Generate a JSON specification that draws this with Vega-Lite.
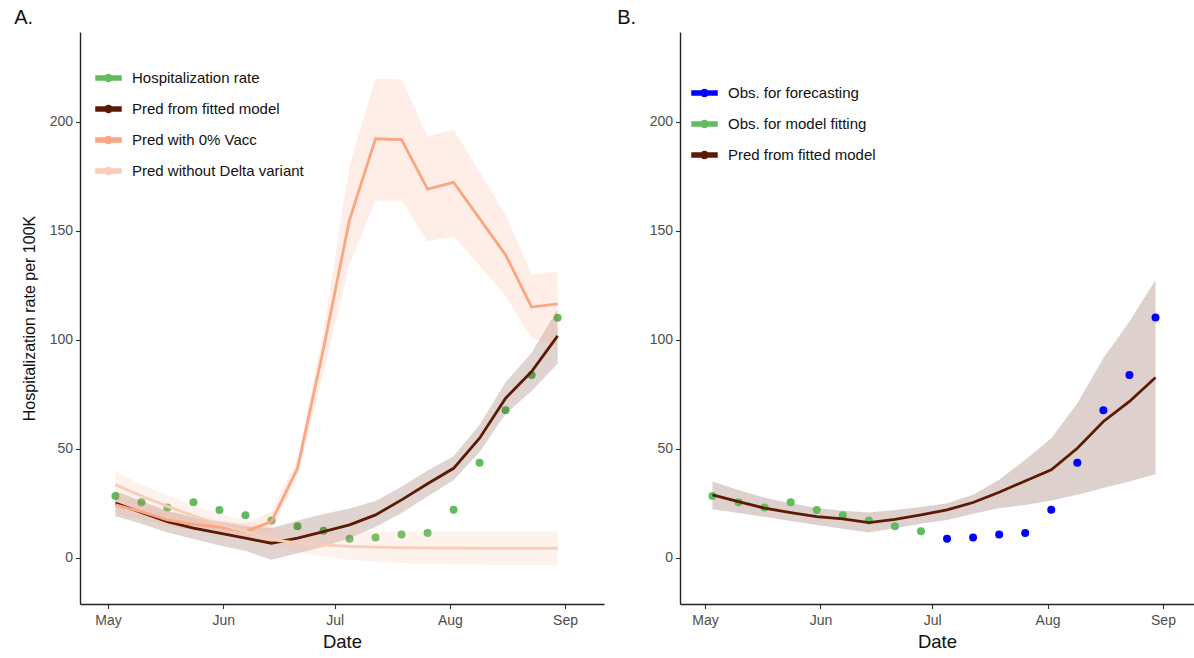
{
  "$schema": "https://vega.github.io/schema/vega-lite/v6.json",
  "padding": {"left": 14, "top": 8, "right": 0, "bottom": 0},
  "background": "white",
  "config": {
    "font": "Liberation Sans",
    "view": {"stroke": null},
    "axis": {"grid": false, "domainColor": "#222222", "domainWidth": 1.4, "tickColor": "#333333", "tickSize": 4.5, "tickWidth": 1.1, "labelColor": "#4D4D4D", "labelFontSize": 14, "labelFont": "Liberation Sans", "titleFont": "Liberation Sans", "titleFontWeight": "normal", "titleColor": "#111111", "labelPadding": 3}
  },
  "resolve": {"scale": {"color": "independent", "fill": "independent"}},
  "spacing": 13,
  "datasets": {
    "obsA": [
      {"date": "2021-05-03", "y": 28.3, "series": "Hospitalization rate"},
      {"date": "2021-05-10", "y": 25.4, "series": "Hospitalization rate"},
      {"date": "2021-05-17", "y": 23.0, "series": "Hospitalization rate"},
      {"date": "2021-05-24", "y": 25.4, "series": "Hospitalization rate"},
      {"date": "2021-05-31", "y": 21.8, "series": "Hospitalization rate"},
      {"date": "2021-06-07", "y": 19.5, "series": "Hospitalization rate"},
      {"date": "2021-06-14", "y": 17.0, "series": "Hospitalization rate"},
      {"date": "2021-06-21", "y": 14.4, "series": "Hospitalization rate"},
      {"date": "2021-06-28", "y": 12.3, "series": "Hospitalization rate"},
      {"date": "2021-07-05", "y": 8.6, "series": "Hospitalization rate"},
      {"date": "2021-07-12", "y": 9.2, "series": "Hospitalization rate"},
      {"date": "2021-07-19", "y": 10.6, "series": "Hospitalization rate"},
      {"date": "2021-07-26", "y": 11.3, "series": "Hospitalization rate"},
      {"date": "2021-08-02", "y": 22.0, "series": "Hospitalization rate"},
      {"date": "2021-08-09", "y": 43.6, "series": "Hospitalization rate"},
      {"date": "2021-08-16", "y": 67.7, "series": "Hospitalization rate"},
      {"date": "2021-08-23", "y": 83.8, "series": "Hospitalization rate"},
      {"date": "2021-08-30", "y": 110.1, "series": "Hospitalization rate"}
    ],
    "predA": [
      {"series": "Pred from fitted model", "date": "2021-05-03", "y": 25.0, "lo": 19.0, "hi": 30.5},
      {"series": "Pred from fitted model", "date": "2021-05-10", "y": 20.7, "lo": 15.5, "hi": 26.0},
      {"series": "Pred from fitted model", "date": "2021-05-17", "y": 16.5, "lo": 11.5, "hi": 21.5},
      {"series": "Pred from fitted model", "date": "2021-05-24", "y": 13.5, "lo": 8.5, "hi": 18.5},
      {"series": "Pred from fitted model", "date": "2021-05-31", "y": 11.2, "lo": 5.5, "hi": 16.5},
      {"series": "Pred from fitted model", "date": "2021-06-07", "y": 8.9, "lo": 3.0, "hi": 14.5},
      {"series": "Pred from fitted model", "date": "2021-06-14", "y": 6.6, "lo": -1.0, "hi": 13.5},
      {"series": "Pred from fitted model", "date": "2021-06-21", "y": 8.9, "lo": 2.0, "hi": 17.0},
      {"series": "Pred from fitted model", "date": "2021-06-28", "y": 11.9, "lo": 5.0, "hi": 20.0},
      {"series": "Pred from fitted model", "date": "2021-07-05", "y": 15.0, "lo": 9.0, "hi": 22.5},
      {"series": "Pred from fitted model", "date": "2021-07-12", "y": 19.6, "lo": 14.0, "hi": 26.0},
      {"series": "Pred from fitted model", "date": "2021-07-19", "y": 26.5, "lo": 20.5, "hi": 32.5},
      {"series": "Pred from fitted model", "date": "2021-07-26", "y": 33.9, "lo": 28.0, "hi": 40.0},
      {"series": "Pred from fitted model", "date": "2021-08-02", "y": 41.0, "lo": 35.5, "hi": 46.5},
      {"series": "Pred from fitted model", "date": "2021-08-09", "y": 54.8, "lo": 48.5, "hi": 61.0},
      {"series": "Pred from fitted model", "date": "2021-08-16", "y": 73.2, "lo": 66.0, "hi": 80.5},
      {"series": "Pred from fitted model", "date": "2021-08-23", "y": 85.4, "lo": 76.5, "hi": 94.0},
      {"series": "Pred from fitted model", "date": "2021-08-30", "y": 101.8, "lo": 89.0, "hi": 114.0},
      {"series": "Pred with 0% Vacc", "date": "2021-05-03", "y": 24.2, "lo": 20.5, "hi": 28.5},
      {"series": "Pred with 0% Vacc", "date": "2021-05-10", "y": 21.1, "lo": 17.5, "hi": 24.5},
      {"series": "Pred with 0% Vacc", "date": "2021-05-17", "y": 17.3, "lo": 14.5, "hi": 21.0},
      {"series": "Pred with 0% Vacc", "date": "2021-05-24", "y": 15.3, "lo": 12.5, "hi": 18.5},
      {"series": "Pred with 0% Vacc", "date": "2021-05-31", "y": 14.0, "lo": 11.0, "hi": 17.0},
      {"series": "Pred with 0% Vacc", "date": "2021-06-07", "y": 12.0, "lo": 9.5, "hi": 15.5},
      {"series": "Pred with 0% Vacc", "date": "2021-06-14", "y": 16.5, "lo": 12.5, "hi": 21.0},
      {"series": "Pred with 0% Vacc", "date": "2021-06-21", "y": 41.0, "lo": 37.0, "hi": 45.0},
      {"series": "Pred with 0% Vacc", "date": "2021-06-28", "y": 96.0, "lo": 85.0, "hi": 104.0},
      {"series": "Pred with 0% Vacc", "date": "2021-07-05", "y": 155.1, "lo": 134.4, "hi": 180.0},
      {"series": "Pred with 0% Vacc", "date": "2021-07-12", "y": 192.3, "lo": 164.0, "hi": 220.0},
      {"series": "Pred with 0% Vacc", "date": "2021-07-19", "y": 191.9, "lo": 164.0, "hi": 219.5},
      {"series": "Pred with 0% Vacc", "date": "2021-07-26", "y": 169.2, "lo": 145.2, "hi": 193.4},
      {"series": "Pred with 0% Vacc", "date": "2021-08-02", "y": 172.3, "lo": 147.5, "hi": 196.5},
      {"series": "Pred with 0% Vacc", "date": "2021-08-09", "y": 155.6, "lo": 134.0, "hi": 177.0},
      {"series": "Pred with 0% Vacc", "date": "2021-08-16", "y": 139.0, "lo": 120.0, "hi": 157.4},
      {"series": "Pred with 0% Vacc", "date": "2021-08-23", "y": 115.0, "lo": 100.8, "hi": 130.0},
      {"series": "Pred with 0% Vacc", "date": "2021-08-30", "y": 116.5, "lo": 97.0, "hi": 131.4},
      {"series": "Pred without Delta variant", "date": "2021-05-03", "y": 33.5, "lo": 28.0, "hi": 39.5},
      {"series": "Pred without Delta variant", "date": "2021-05-10", "y": 28.3, "lo": 23.0, "hi": 33.5},
      {"series": "Pred without Delta variant", "date": "2021-05-17", "y": 23.5, "lo": 19.0, "hi": 28.5},
      {"series": "Pred without Delta variant", "date": "2021-05-24", "y": 19.2, "lo": 15.0, "hi": 24.0},
      {"series": "Pred without Delta variant", "date": "2021-05-31", "y": 15.3, "lo": 11.5, "hi": 20.0},
      {"series": "Pred without Delta variant", "date": "2021-06-07", "y": 12.0, "lo": 8.5, "hi": 17.0},
      {"series": "Pred without Delta variant", "date": "2021-06-14", "y": 8.3, "lo": 5.5, "hi": 14.0},
      {"series": "Pred without Delta variant", "date": "2021-06-21", "y": 6.8, "lo": 2.5, "hi": 12.5},
      {"series": "Pred without Delta variant", "date": "2021-06-28", "y": 5.8, "lo": 0.5, "hi": 12.0},
      {"series": "Pred without Delta variant", "date": "2021-07-05", "y": 5.1, "lo": -1.0, "hi": 12.0},
      {"series": "Pred without Delta variant", "date": "2021-07-12", "y": 4.8, "lo": -2.0, "hi": 12.0},
      {"series": "Pred without Delta variant", "date": "2021-07-19", "y": 4.6, "lo": -2.5, "hi": 12.0},
      {"series": "Pred without Delta variant", "date": "2021-07-26", "y": 4.5, "lo": -3.0, "hi": 12.0},
      {"series": "Pred without Delta variant", "date": "2021-08-02", "y": 4.4, "lo": -3.2, "hi": 12.0},
      {"series": "Pred without Delta variant", "date": "2021-08-09", "y": 4.3, "lo": -3.3, "hi": 12.0},
      {"series": "Pred without Delta variant", "date": "2021-08-16", "y": 4.3, "lo": -3.4, "hi": 12.0},
      {"series": "Pred without Delta variant", "date": "2021-08-23", "y": 4.3, "lo": -3.4, "hi": 12.0},
      {"series": "Pred without Delta variant", "date": "2021-08-30", "y": 4.3, "lo": -3.4, "hi": 12.0}
    ],
    "obsB": [
      {"date": "2021-05-03", "y": 28.3, "series": "Obs. for model fitting"},
      {"date": "2021-05-10", "y": 25.4, "series": "Obs. for model fitting"},
      {"date": "2021-05-17", "y": 23.0, "series": "Obs. for model fitting"},
      {"date": "2021-05-24", "y": 25.4, "series": "Obs. for model fitting"},
      {"date": "2021-05-31", "y": 21.8, "series": "Obs. for model fitting"},
      {"date": "2021-06-07", "y": 19.5, "series": "Obs. for model fitting"},
      {"date": "2021-06-14", "y": 17.0, "series": "Obs. for model fitting"},
      {"date": "2021-06-21", "y": 14.4, "series": "Obs. for model fitting"},
      {"date": "2021-06-28", "y": 12.1, "series": "Obs. for model fitting"},
      {"date": "2021-07-05", "y": 8.6, "series": "Obs. for forecasting"},
      {"date": "2021-07-12", "y": 9.2, "series": "Obs. for forecasting"},
      {"date": "2021-07-19", "y": 10.6, "series": "Obs. for forecasting"},
      {"date": "2021-07-26", "y": 11.3, "series": "Obs. for forecasting"},
      {"date": "2021-08-02", "y": 22.0, "series": "Obs. for forecasting"},
      {"date": "2021-08-09", "y": 43.6, "series": "Obs. for forecasting"},
      {"date": "2021-08-16", "y": 67.7, "series": "Obs. for forecasting"},
      {"date": "2021-08-23", "y": 83.8, "series": "Obs. for forecasting"},
      {"date": "2021-08-30", "y": 110.2, "series": "Obs. for forecasting"}
    ],
    "predB": [
      {"series": "Pred from fitted model", "date": "2021-05-03", "y": 28.8, "lo": 22.2, "hi": 34.9},
      {"series": "Pred from fitted model", "date": "2021-05-10", "y": 25.7, "lo": 20.5, "hi": 31.0},
      {"series": "Pred from fitted model", "date": "2021-05-17", "y": 22.7, "lo": 18.7, "hi": 27.5},
      {"series": "Pred from fitted model", "date": "2021-05-24", "y": 20.7, "lo": 16.8, "hi": 25.0},
      {"series": "Pred from fitted model", "date": "2021-05-31", "y": 18.8, "lo": 15.0, "hi": 22.8},
      {"series": "Pred from fitted model", "date": "2021-06-07", "y": 17.8, "lo": 13.2, "hi": 21.5},
      {"series": "Pred from fitted model", "date": "2021-06-14", "y": 16.1, "lo": 11.5, "hi": 20.7},
      {"series": "Pred from fitted model", "date": "2021-06-21", "y": 17.6, "lo": 13.5, "hi": 21.8},
      {"series": "Pred from fitted model", "date": "2021-06-28", "y": 19.6, "lo": 15.5, "hi": 23.2},
      {"series": "Pred from fitted model", "date": "2021-07-05", "y": 21.9, "lo": 17.3, "hi": 24.9},
      {"series": "Pred from fitted model", "date": "2021-07-12", "y": 25.3, "lo": 20.1, "hi": 28.8},
      {"series": "Pred from fitted model", "date": "2021-07-19", "y": 30.0, "lo": 22.7, "hi": 35.7},
      {"series": "Pred from fitted model", "date": "2021-07-26", "y": 35.2, "lo": 24.2, "hi": 44.9},
      {"series": "Pred from fitted model", "date": "2021-08-02", "y": 40.3, "lo": 26.2, "hi": 54.8},
      {"series": "Pred from fitted model", "date": "2021-08-09", "y": 50.2, "lo": 28.8, "hi": 70.9},
      {"series": "Pred from fitted model", "date": "2021-08-16", "y": 62.5, "lo": 31.9, "hi": 91.6},
      {"series": "Pred from fitted model", "date": "2021-08-23", "y": 71.7, "lo": 34.9, "hi": 108.4},
      {"series": "Pred from fitted model", "date": "2021-08-30", "y": 82.7, "lo": 38.3, "hi": 127.5}
    ]
  },
  "hconcat": [
    {
      "width": 524,
      "height": 572,
      "title": {"text": "A.", "anchor": "start", "frame": "bounds", "fontSize": 20, "fontWeight": "normal", "font": "Liberation Sans", "color": "#111111", "offset": 4, "dx": -7},
      "encoding": {
        "x": {"field": "date", "type": "temporal",
          "scale": {"type": "utc", "domain": [{"year": 2021, "month": 4, "date": 23, "hours": 11, "minutes": 17, "utc": true}, {"year": 2021, "month": 9, "date": 11, "hours": 11, "minutes": 30, "utc": true}]},
          "axis": {"title": "Date", "titleFontSize": 18.5, "titlePadding": 5, "labelPadding": 5, "labelExpr": "utcFormat(datum.value, '%b')",
            "values": [{"year": 2021, "month": 5, "date": 1, "utc": true}, {"year": 2021, "month": 6, "date": 1, "utc": true}, {"year": 2021, "month": 7, "date": 1, "utc": true}, {"year": 2021, "month": 8, "date": 1, "utc": true}, {"year": 2021, "month": 9, "date": 1, "utc": true}]}}
      },
      "layer": [
        {
          "data": {"name": "obsA"},
          "mark": {"type": "point", "filled": true, "size": 64, "opacity": 1},
          "encoding": {
            "y": {"field": "y", "type": "quantitative", "scale": {"domain": [-21.3, 241.3], "nice": false, "zero": false},
              "axis": {"title": "Hospitalization rate per 100K", "titleFontSize": 16, "titlePadding": 12, "values": [0, 50, 100, 150, 200]}},
            "color": {"field": "series", "type": "nominal",
              "scale": {"domain": ["Hospitalization rate", "Pred from fitted model", "Pred with 0% Vacc", "Pred without Delta variant"], "range": ["#61BC5F", "#5C1A05", "#FCA582", "#F8CDB9"]},
              "legend": {"orient": "none", "legendX": 15, "legendY": 32.5, "title": null, "padding": 0, "labelLimit": 400,
                "symbolType": "M-1,-0.16L1,-0.16L1,0.16L-1,0.16Z M-0.28,0A0.28,0.28 0 1,1 0.28,0A0.28,0.28 0 1,1 -0.28,0Z",
                "symbolSize": 625, "labelFontSize": 15, "labelFont": "Liberation Sans", "labelColor": "#111111", "labelOffset": 10, "rowPadding": 9,
                "encode": {"symbols": {"update": {"fill": {"signal": "datum.value === 'Hospitalization rate' ? '#61BC5F' : datum.value === 'Pred from fitted model' ? '#5C1A05' : datum.value === 'Pred with 0% Vacc' ? '#FCA582' : '#F8D3C3'"}, "fillOpacity": {"value": 1}, "opacity": {"value": 1}, "stroke": {"value": "transparent"}, "strokeWidth": {"value": 0}}}}}}
          }
        },
        {
          "data": {"name": "predA"},
          "mark": {"type": "area", "fillOpacity": 0.19},
          "encoding": {
            "y": {"field": "lo", "type": "quantitative", "axis": {"title": "Hospitalization rate per 100K", "titleFontSize": 16, "titlePadding": 12, "values": [0, 50, 100, 150, 200]}},
            "y2": {"field": "hi"},
            "fill": {"field": "series", "type": "nominal", "legend": null,
              "scale": {"domain": ["Pred from fitted model", "Pred with 0% Vacc", "Pred without Delta variant"], "range": ["#5C1A05", "#FCA582", "#F9B89C"]}}
          }
        },
        {
          "data": {"name": "predA"},
          "mark": {"type": "line", "strokeWidth": 2.8},
          "encoding": {
            "y": {"field": "y", "type": "quantitative", "axis": {"title": "Hospitalization rate per 100K", "titleFontSize": 16, "titlePadding": 12, "values": [0, 50, 100, 150, 200]}},
            "color": {"field": "series", "type": "nominal"}
          }
        }
      ]
    },
    {
      "width": 514,
      "height": 572,
      "title": {"text": "B.", "anchor": "start", "frame": "bounds", "fontSize": 20, "fontWeight": "normal", "font": "Liberation Sans", "color": "#111111", "offset": 4, "dx": -32},
      "encoding": {
        "x": {"field": "date", "type": "temporal",
          "scale": {"type": "utc", "domain": [{"year": 2021, "month": 4, "date": 24, "hours": 6, "minutes": 43, "utc": true}, {"year": 2021, "month": 9, "date": 9, "hours": 8, "minutes": 0, "utc": true}]},
          "axis": {"title": "Date", "titleFontSize": 18.5, "titlePadding": 5, "labelPadding": 5, "labelExpr": "utcFormat(datum.value, '%b')",
            "values": [{"year": 2021, "month": 5, "date": 1, "utc": true}, {"year": 2021, "month": 6, "date": 1, "utc": true}, {"year": 2021, "month": 7, "date": 1, "utc": true}, {"year": 2021, "month": 8, "date": 1, "utc": true}, {"year": 2021, "month": 9, "date": 1, "utc": true}]}}
      },
      "layer": [
        {
          "data": {"name": "predB"},
          "mark": {"type": "area", "fillOpacity": 0.2, "color": "#5C1A05"},
          "encoding": {
            "y": {"field": "lo", "type": "quantitative", "scale": {"domain": [-21.3, 241.3], "nice": false, "zero": false}, "axis": {"title": null, "values": [0, 50, 100, 150, 200]}},
            "y2": {"field": "hi"}
          }
        },
        {
          "data": {"name": "obsB"},
          "mark": {"type": "point", "filled": true, "size": 64, "opacity": 1},
          "encoding": {
            "y": {"field": "y", "type": "quantitative", "axis": {"title": null, "values": [0, 50, 100, 150, 200]}},
            "color": {"field": "series", "type": "nominal",
              "scale": {"domain": ["Obs. for forecasting", "Obs. for model fitting", "Pred from fitted model"], "range": ["#0000FF", "#61BC5F", "#5C1A05"]},
              "legend": {"orient": "none", "legendX": 11, "legendY": 47.5, "title": null, "padding": 0, "labelLimit": 400,
                "symbolType": "M-1,-0.16L1,-0.16L1,0.16L-1,0.16Z M-0.28,0A0.28,0.28 0 1,1 0.28,0A0.28,0.28 0 1,1 -0.28,0Z",
                "symbolSize": 625, "labelFontSize": 15, "labelFont": "Liberation Sans", "labelColor": "#111111", "labelOffset": 10, "rowPadding": 9,
                "encode": {"symbols": {"update": {"fill": {"signal": "datum.value === 'Obs. for forecasting' ? '#0000FF' : datum.value === 'Obs. for model fitting' ? '#61BC5F' : '#5C1A05'"}, "fillOpacity": {"value": 1}, "opacity": {"value": 1}, "stroke": {"value": "transparent"}, "strokeWidth": {"value": 0}}}}}}
          }
        },
        {
          "data": {"name": "predB"},
          "mark": {"type": "line", "strokeWidth": 2.8},
          "encoding": {
            "y": {"field": "y", "type": "quantitative", "axis": {"title": null, "values": [0, 50, 100, 150, 200]}},
            "color": {"field": "series", "type": "nominal"}
          }
        }
      ]
    }
  ]
}
